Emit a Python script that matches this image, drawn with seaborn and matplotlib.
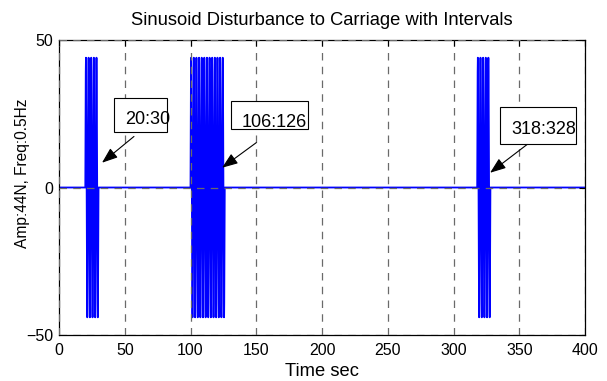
import numpy as np
import pandas as pd
import matplotlib
matplotlib.use("Agg")
import matplotlib.pyplot as plt
from matplotlib.patches import Rectangle
import seaborn as sns

# Disturbance parameters (stated on the y axis label)
amplitude = 44.0      # N
frequency = 0.5       # Hz
sample_step = 0.05    # s
t_end = 400

# Time windows in which the disturbance is active
interval_starts = [20, 100, 318]
interval_ends = [30, 126, 328]
interval_labels = ["20:30", "106:126", "318:328"]

x_ticks = [0, 50, 100, 150, 200, 250, 300, 350, 400]
y_ticks = [-50, 0, 50]

# Build the gated sinusoid
t = np.arange(0, t_end + sample_step / 2, sample_step)
force = np.zeros_like(t)
for s, e in zip(interval_starts, interval_ends):
    on = (t >= s) & (t <= e)
    force[on] = amplitude * np.sin(2 * np.pi * frequency * t[on])
df = pd.DataFrame({"time": t, "force": force})

sns.set_theme(style="white")
plt.rcParams["font.family"] = ["Liberation Sans", "DejaVu Sans"]
plt.rcParams["xtick.direction"] = "in"
plt.rcParams["ytick.direction"] = "in"
plt.rcParams["text.color"] = "black"
plt.rcParams["axes.labelcolor"] = "black"

fig = plt.figure(figsize=(6.07, 3.81), dpi=100)
ax = fig.add_axes([0.0972, 0.1207, 0.8666, 0.7743])

sns.lineplot(data=df, x="time", y="force", ax=ax, color="#0000ff",
             linewidth=1.3, estimator=None, sort=False)

ax.set_xlim(0, 400)
ax.set_ylim(-50, 50)
ax.set_xticks(x_ticks)
ax.set_yticks(y_ticks)
ax.tick_params(axis="both", which="both", labelsize=11.5, length=4, width=0.8,
               color="black", top=True, right=True, labelcolor="black")
ax.tick_params(axis="x", pad=6)
ax.tick_params(axis="y", pad=4)
for sp in ax.spines.values():
    sp.set_color("black")
    sp.set_linewidth(0.9)

ax.set_axisbelow(False)
ax.grid(True, linestyle=(0, (6, 5)), color="#6a6a6a", linewidth=0.9)

ax.set_title("Sinusoid Disturbance to Carriage with Intervals", fontsize=13.2, pad=11,
             color="black")
ax.set_xlabel("Time sec", fontsize=13.2, labelpad=3, color="black")
ax.set_ylabel("Amp:44N, Freq:0.5Hz", fontsize=11.2, color="black")
ax.yaxis.set_label_coords(-0.056, 0.55)

# Interval annotations, in data units:
# box (x0, x1, y0, y1), text anchor (left, baseline), arrow tail and tip
box_extent = [(41.8, 82.1, 18.8, 30.2), (130.8, 189.4, 20.0, 29.2), (335.4, 393.2, 14.9, 27.2)]
text_anchor = [(50.2, 21.4), (139.2, 20.4), (343.7, 18.3)]
arrow_tail = [(57, 17.3), (150, 15.2), (356, 14.6)]
arrow_tip = [(32.7, 8.4), (124, 6.7), (327.8, 5.0)]
for lab, bx, ta, tail, tip in zip(interval_labels, box_extent, text_anchor, arrow_tail, arrow_tip):
    ax.add_patch(Rectangle((bx[0], bx[2]), bx[1] - bx[0], bx[3] - bx[2],
                           facecolor="white", edgecolor="black", lw=0.8, zorder=4))
    ax.text(ta[0], ta[1], lab, ha="left", va="baseline", fontsize=13, color="black",
            zorder=5)
    ax.annotate("", xy=tip, xytext=tail,
                arrowprops=dict(arrowstyle="-|>,head_length=0.8,head_width=0.3",
                                color="black", lw=0.8, shrinkA=0, shrinkB=0),
                zorder=5)

fig.savefig("out.png", dpi=100, facecolor="white")
